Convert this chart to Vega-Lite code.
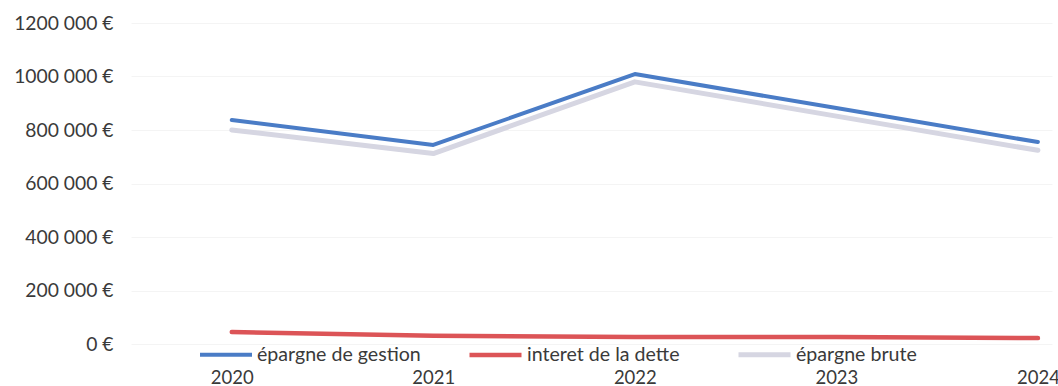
{
  "$schema": "https://vega.github.io/schema/vega-lite/v6.json",
  "autosize": {"type": "none"},
  "width": 921,
  "height": 321,
  "padding": {"left": 131, "top": 23, "right": 6, "bottom": 42},
  "background": "white",
  "config": {
    "font": "Lato",
    "view": {"stroke": null},
    "axis": {"labelColor": "#3a3a3a", "labelFontSize": 18.5, "labelFont": "Lato", "domain": false, "ticks": false}
  },
  "data": {
    "values": [
      {"annee": 2020, "serie": "épargne brute", "montant": 800000},
      {"annee": 2021, "serie": "épargne brute", "montant": 712000},
      {"annee": 2022, "serie": "épargne brute", "montant": 980000},
      {"annee": 2023, "serie": "épargne brute", "montant": 852000},
      {"annee": 2024, "serie": "épargne brute", "montant": 724000},
      {"annee": 2020, "serie": "épargne de gestion", "montant": 837000},
      {"annee": 2021, "serie": "épargne de gestion", "montant": 744000},
      {"annee": 2022, "serie": "épargne de gestion", "montant": 1009000},
      {"annee": 2023, "serie": "épargne de gestion", "montant": 882000},
      {"annee": 2024, "serie": "épargne de gestion", "montant": 755000},
      {"annee": 2020, "serie": "interet de la dette", "montant": 45000},
      {"annee": 2021, "serie": "interet de la dette", "montant": 31000},
      {"annee": 2022, "serie": "interet de la dette", "montant": 26000},
      {"annee": 2023, "serie": "interet de la dette", "montant": 26000},
      {"annee": 2024, "serie": "interet de la dette", "montant": 22000}
    ]
  },
  "mark": {"type": "line", "strokeCap": "round", "strokeJoin": "round"},
  "encoding": {
    "x": {
      "field": "annee",
      "type": "quantitative",
      "scale": {"domain": [2019.5, 2024.07], "nice": false, "zero": false},
      "axis": {"title": null, "values": [2020, 2021, 2022, 2023, 2024], "format": "d", "grid": false, "labelPadding": 24, "labelFlush": false}
    },
    "y": {
      "field": "montant",
      "type": "quantitative",
      "scale": {"domain": [0, 1200000], "nice": false},
      "axis": {
        "title": null,
        "values": [0, 200000, 400000, 600000, 800000, 1000000, 1200000],
        "labelExpr": "datum.value == 0 ? '0 €' : format(datum.value / 1000, 'd') + ' 000 €'",
        "labelPadding": 18,
        "labelFontSize": 19.3,
        "grid": true,
        "gridColor": "#f4f4f4",
        "gridWidth": 1
      }
    },
    "color": {
      "field": "serie",
      "type": "nominal",
      "scale": {
        "domain": ["épargne de gestion", "interet de la dette", "épargne brute"],
        "range": ["#4a7cc6", "#dc5457", "#d6d6e2"]
      },
      "legend": {
        "title": null,
        "orient": "none",
        "direction": "horizontal",
        "legendX": 67,
        "legendY": 303,
        "symbolType": "stroke",
        "symbolSize": 2704,
        "symbolStrokeWidth": 4.5,
        "labelFontSize": 19.6,
        "labelFont": "Lato",
        "labelColor": "#3a3a3a",
        "labelOffset": 3,
        "labelLimit": 300,
        "gridAlign": "all",
        "columnPadding": 38
      }
    },
    "strokeWidth": {
      "field": "serie",
      "type": "nominal",
      "scale": {
        "domain": ["épargne de gestion", "interet de la dette", "épargne brute"],
        "range": [4, 5, 4]
      },
      "legend": null
    },
    "order": {"field": "annee"}
  }
}
